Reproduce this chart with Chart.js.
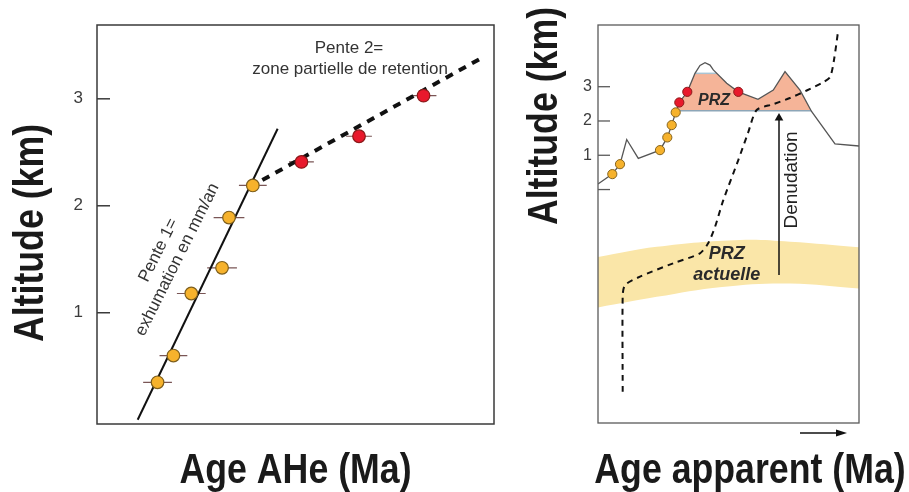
<!DOCTYPE html>
<html><head><meta charset="utf-8">
<script src="https://cdn.jsdelivr.net/npm/chart.js@4.4.1/dist/chart.umd.min.js"></script>
<style>
html,body{margin:0;padding:0;background:#fff;width:909px;height:492px;overflow:hidden}
#wrapL{position:absolute;left:0;top:0;width:520px;height:492px}
#wrapR{position:absolute;left:520px;top:0;width:389px;height:492px}
</style></head><body>
<div id="wrapL"><canvas id="cL"></canvas></div>
<div id="wrapR"><canvas id="cR"></canvas></div>
<script>
// ---------- LEFT PANEL DATA (Age AHe, arbitrary Ma units / Altitude km) ----------
const ageOrange = [6.1, 7.7, 9.5, 12.6, 13.3, 15.7];
const altOrange = [0.35, 0.60, 1.18, 1.42, 1.89, 2.19];
const errOrange = [1.45, 1.4, 1.45, 1.5, 1.55, 1.4];
const ageRed = [20.6, 26.4, 32.9];
const altRed = [2.41, 2.65, 3.03];
const errRed = [1.25, 1.3, 1.3];
const slope1Age = [4.1, 18.2];
const slope1Alt = [0.0, 2.72];
const slope2Age = [16.66, 39.1];
const slope2Alt = [2.24, 3.40];
const yTicksLeft = [1, 2, 3];

// ---------- RIGHT PANEL DATA (Age apparent / Altitude km) ----------
const topoAge = [0, 5.48, 8.43, 11.0, 15.44, 23.75, 26.55, 28.24, 29.77, 31.15, 34.21, 37.16, 39.08, 41.0, 42.91, 44.18, 49.31, 53.75, 61.30, 67.16, 71.65, 77.39, 81.88, 90.80, 100];
const topoAlt = [0.16, 0.45, 0.74, 1.46, 0.91, 1.15, 1.52, 1.88, 2.25, 2.54, 2.85, 3.39, 3.62, 3.70, 3.63, 3.49, 3.10, 2.85, 2.63, 2.90, 3.44, 2.90, 2.27, 1.33, 1.27];
const przAge = [30.0, 31.15, 34.21, 37.16, 45.5, 49.31, 53.75, 61.30, 67.16, 71.65, 77.39, 81.67];
const przAlt = [2.30, 2.54, 2.85, 3.39, 3.39, 3.10, 2.85, 2.63, 2.90, 3.44, 2.90, 2.30];
const przBase = 2.30;
const przCapAge = [37.16, 45.5];
const przCapAlt = [3.39, 3.39];
const rOrangeAge = [5.48, 8.43, 23.75, 26.55, 28.24, 29.77];
const rOrangeAlt = [0.45, 0.74, 1.15, 1.52, 1.88, 2.25];
const rRedAge = [31.15, 34.21, 53.75];
const rRedAlt = [2.54, 2.85, 2.85];
const isoAge = [9.46, 9.46, 10.34, 16.09, 28.85, 39.08, 42.26, 44.83, 48.01, 53.75, 57.47, 60.80, 67.16, 73.56, 79.96, 85.82, 88.89, 90.42, 91.95];
const isoAlt = [-5.90, -3.11, -2.79, -2.54, -2.15, -1.86, -1.56, -1.09, -0.31, 0.86, 1.65, 2.32, 2.49, 2.67, 2.89, 3.11, 3.28, 3.78, 4.60];
const bandTopAge = [0, 22.5, 54.4, 73.6, 100];
const bandTopAlt = [-1.97, -1.67, -1.47, -1.52, -1.68];
const bandBotAge = [0, 22.5, 47.5, 73.6, 100];
const bandBotAlt = [-3.44, -3.13, -2.84, -2.74, -2.89];
const denudAge = [69.35, 69.35];
const denudAlt = [-2.49, 2.09];
const yTicksRight = [0, 1, 2, 3];

const zip = (xs, ys) => xs.map((x, i) => ({x: x, y: ys[i]}));
function errBars(xs, ys, es) {
  const out = [];
  xs.forEach((x, i) => { out.push({x: x - es[i], y: ys[i]}, {x: x + es[i], y: ys[i]}, {x: x + es[i], y: null}); });
  return out;
}

const FONT = '"Liberation Sans", Arial, Helvetica, sans-serif';

function drawLabel(chart, a) {
  const ctx = chart.ctx;
  const px = chart.scales.x.getPixelForValue(a.x), py = chart.scales.y.getPixelForValue(a.y);
  ctx.save();
  ctx.translate(px, py);
  if (a.rot) ctx.rotate(a.rot * Math.PI / 180);
  ctx.font = (a.style || '') + ' ' + (a.weight || 'normal') + ' ' + a.size + 'px ' + FONT;
  ctx.fillStyle = a.color || '#333';
  ctx.textAlign = 'center';
  ctx.textBaseline = a.baseline || 'alphabetic';
  const lines = a.lines || [a.text];
  const gap = a.gap || 0;
  lines.forEach((t, i) => ctx.fillText(t, 0, (i - (lines.length - 1) / 2) * gap));
  ctx.restore();
}
function drawTitle(chart, t) {
  const ctx = chart.ctx, ca = chart.chartArea;
  const cx = t.cx === 'center' ? (ca.left + ca.right) / 2 : t.cx;
  ctx.save();
  ctx.translate(cx, t.cy);
  if (t.rot) ctx.rotate(t.rot * Math.PI / 180);
  ctx.scale(t.sx || 1, 1);
  ctx.font = 'bold ' + t.size + 'px ' + FONT;
  ctx.fillStyle = '#1a1a1a';
  ctx.textAlign = 'center';
  ctx.textBaseline = 'alphabetic';
  ctx.fillText(t.text, 0, 0);
  ctx.restore();
}
function decor(cfg) {
  return {
    id: 'decor',
    afterDatasetsDraw(chart) {
      const ctx = chart.ctx, a = chart.chartArea, y = chart.scales.y;
      ctx.save();
      ctx.strokeStyle = cfg.frameColor; ctx.lineWidth = cfg.frameWidth;
      ctx.strokeRect(a.left, a.top, a.right - a.left, a.bottom - a.top);
      y.ticks.forEach(t => {
        const py = y.getPixelForValue(t.value);
        ctx.beginPath(); ctx.moveTo(a.left, py); ctx.lineTo(a.left + cfg.tickLen, py); ctx.stroke();
      });
      ctx.restore();
    },
    afterDraw(chart) {
      (cfg.labels || []).forEach(l => drawLabel(chart, l));
      (cfg.titles || []).forEach(t => drawTitle(chart, t));
      if (cfg.extra) cfg.extra(chart);
    }
  };
}

const common = {
  responsive: true, maintainAspectRatio: false, animation: false, devicePixelRatio: 1,
  plugins: {legend: {display: false}, tooltip: {enabled: false}}
};

// ---------------- LEFT CHART ----------------
new Chart(document.getElementById('cL'), {
  type: 'scatter',
  data: {datasets: [
    {type: 'line', label: 'err', data: errBars(ageOrange.concat(ageRed), altOrange.concat(altRed), errOrange.concat(errRed)),
     borderColor: '#7a5656', borderWidth: 1.2, pointRadius: 0, spanGaps: false, order: 6},
    {type: 'line', label: 'Pente 1', data: zip(slope1Age, slope1Alt), borderColor: '#111', borderWidth: 2, pointRadius: 0, order: 5},
    {type: 'line', label: 'Pente 2', data: zip(slope2Age, slope2Alt), borderColor: '#111', borderWidth: 4, borderDash: [8, 7], pointRadius: 0, order: 4},
    {label: 'AHe orange', data: zip(ageOrange, altOrange), backgroundColor: '#f6b22c', borderColor: '#7d5e1c', borderWidth: 1.2, pointRadius: 6.3, order: 1},
    {label: 'AHe rouge', data: zip(ageRed, altRed), backgroundColor: '#e8192c', borderColor: '#8b1a1a', borderWidth: 1.2, pointRadius: 6.3, order: 1}
  ]},
  options: Object.assign({}, common, {
    layout: {padding: {left: 0, top: 25, right: 26, bottom: 0}},
    scales: {
      x: {type: 'linear', min: 0, max: 40, ticks: {display: false}, grid: {display: false, drawTicks: false}, border: {display: false},
          afterFit: s => { s.height = 68; }},
      y: {type: 'linear', min: -0.04, max: 3.69,
          ticks: {font: {family: FONT, size: 17}, color: '#3c3c3c', padding: 14},
          grid: {display: false, drawTicks: false}, border: {display: false},
          afterBuildTicks: s => { s.ticks = yTicksLeft.map(v => ({value: v})); },
          afterFit: s => { s.width = 97; }}
    }
  }),
  plugins: [decor({
    frameColor: '#3a3a3a', frameWidth: 1.5, tickLen: 13,
    labels: [
      {text: 'Pente 2=', x: 25.39, y: 3.43, size: 17},
      {text: 'zone partielle de retention', x: 25.5, y: 3.23, size: 17},
      {lines: ['Pente 1=', 'exhumation en mm/an'], x: 7.15, y: 1.54, rot: -63.5, size: 17, gap: 21, baseline: 'middle'}
    ],
    titles: [
      {text: 'Age AHe (Ma)', cx: 'center', cy: 483, size: 42, sx: 0.85},
      {text: 'Altitude (km)', cx: 43, cy: 233, rot: -90, size: 42, sx: 0.85}
    ]
  })]
});

// ---------------- RIGHT CHART ----------------
new Chart(document.getElementById('cR'), {
  type: 'scatter',
  data: {datasets: [
    {type: 'line', label: 'band top', data: zip(bandTopAge, bandTopAlt), borderColor: 'rgba(0,0,0,0)', pointRadius: 0, tension: 0.4, fill: false, order: 20},
    {type: 'line', label: 'PRZ actuelle', data: zip(bandBotAge, bandBotAlt), borderColor: 'rgba(0,0,0,0)', pointRadius: 0, tension: 0.4, fill: 0, backgroundColor: '#fae6a8', order: 19},
    {type: 'line', label: 'PRZ', data: zip(przAge, przAlt), borderColor: 'rgba(0,0,0,0)', pointRadius: 0, fill: {value: przBase}, backgroundColor: '#f5b498', order: 18},
    {type: 'line', label: 'PRZ base', data: zip([przAge[0], przAge[przAge.length - 1]], [przBase, przBase]), borderColor: '#8da6b8', borderWidth: 1.5, pointRadius: 0, order: 17},
    {type: 'line', label: 'PRZ cap', data: zip(przCapAge, przCapAlt), borderColor: '#a9c4d4', borderWidth: 1.5, pointRadius: 0, order: 17},
    {type: 'line', label: 'topographie', data: zip(topoAge, topoAlt), borderColor: '#555', borderWidth: 1.3, pointRadius: 0, order: 10},
    {type: 'line', label: 'age profile', data: zip(isoAge, isoAlt), borderColor: '#111', borderWidth: 2, borderDash: [6, 5], pointRadius: 0, tension: 0.25, order: 9},
    {type: 'line', label: 'Denudation', data: zip(denudAge, denudAlt), borderColor: '#111', borderWidth: 1.5,
     pointRadius: [0, 5], pointStyle: 'triangle', pointBackgroundColor: '#111', pointBorderColor: '#111', pointBorderWidth: 0, order: 8},
    {label: 'orange', data: zip(rOrangeAge, rOrangeAlt), backgroundColor: '#f6b22c', borderColor: '#86641f', borderWidth: 1, pointRadius: 4.6, order: 2},
    {label: 'rouge', data: zip(rRedAge, rRedAlt), backgroundColor: '#e8192c', borderColor: '#8b1a1a', borderWidth: 1, pointRadius: 4.6, order: 1}
  ]},
  options: Object.assign({}, common, {
    layout: {padding: {left: 0, top: 25, right: 50, bottom: 0}},
    scales: {
      x: {type: 'linear', min: 0, max: 100, ticks: {display: false}, grid: {display: false, drawTicks: false}, border: {display: false},
          afterFit: s => { s.height = 69; }},
      y: {type: 'linear', min: -6.81, max: 4.80,
          ticks: {font: {family: FONT, size: 16}, color: '#3c3c3c', padding: 6, callback: v => (v === 0 ? '' : String(v))},
          grid: {display: false, drawTicks: false}, border: {display: false},
          afterBuildTicks: s => { s.ticks = yTicksRight.map(v => ({value: v})); },
          afterFit: s => { s.width = 78; }}
    }
  }),
  plugins: [decor({
    frameColor: '#5a5a5a', frameWidth: 1.3, tickLen: 12,
    labels: [
      {text: 'PRZ', x: 44.44, y: 2.47, size: 16, weight: 'bold', style: 'italic', color: '#2a2a2a'},
      {text: 'PRZ', x: 49.31, y: -2.03, size: 18, weight: 'bold', style: 'italic', color: '#2a2a2a'},
      {text: 'actuelle', x: 49.31, y: -2.64, size: 18, weight: 'bold', style: 'italic', color: '#2a2a2a'},
      {text: 'Denudation', x: 74.33, y: 0.28, rot: -90, size: 19, baseline: 'middle', color: '#222'}
    ],
    titles: [
      {text: 'Age apparent (Ma)', cx: 230, cy: 483, size: 42, sx: 0.85},
      {text: 'Altitude (km)', cx: 37, cy: 116, rot: -90, size: 42, sx: 0.85}
    ],
    extra: chart => {
      const ctx = chart.ctx, a = chart.chartArea;
      const y0 = a.bottom + 10, x1 = a.right - 59, x2 = a.right - 12;
      ctx.save();
      ctx.strokeStyle = '#111'; ctx.fillStyle = '#111'; ctx.lineWidth = 1.3;
      ctx.beginPath(); ctx.moveTo(x1, y0); ctx.lineTo(x2 - 6, y0); ctx.stroke();
      ctx.beginPath(); ctx.moveTo(x2, y0); ctx.lineTo(x2 - 11, y0 - 3.5); ctx.lineTo(x2 - 11, y0 + 3.5); ctx.closePath(); ctx.fill();
      ctx.restore();
    }
  })]
});
</script>
</body></html>
